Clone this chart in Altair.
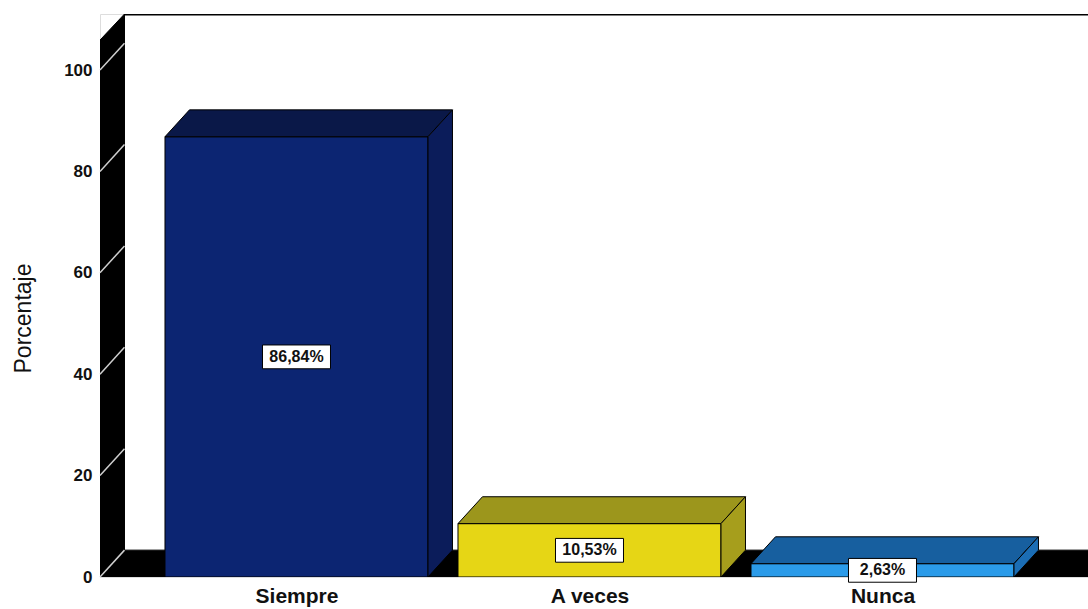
import json
import altair as alt
import pandas as pd

# ---- data ----
categories = ["Siempre", "A veces", "Nunca"]
values = [86.84, 10.53, 2.63]
labels = ["86,84%", "10,53%", "2,63%"]
front_colors = ["#0c2572", "#e6d615", "#2b9be9"]
top_colors = ["#0a1848", "#9c961c", "#175f9f"]
side_colors = ["#0b1c5a", "#a69e1c", "#1b6db4"]
tick_values = [0, 20, 40, 60, 80, 100]

# ---- geometry of the pseudo-3D frame (in data units) ----
XMIN, XMAX = -0.6706, 2.7014
YMAX = 111.05
HW = 0.4488      # half bar width
DX = 0.0836      # depth offset on x
DY = 5.3         # depth offset on y
WALL_TOP = 105.9

FONT = "Liberation Sans"

xscale = alt.Scale(domain=[XMIN, XMAX], nice=False, zero=False)
yscale = alt.Scale(domain=[0, YMAX], nice=False, zero=False)
label_expr = json.dumps(categories) + "[datum.value]"


def X(field):
    return alt.X(field, type="quantitative", scale=xscale, title=None,
                 axis=alt.Axis(values=[0, 1, 2], labelExpr=label_expr, ticks=False,
                               domain=False, grid=False, labelFontSize=21,
                               labelFontWeight="bold", labelFont=FONT,
                               labelColor="#111111", labelPadding=8))


def Y(field):
    return alt.Y(field, type="quantitative", scale=yscale, title="Porcentaje",
                 axis=alt.Axis(values=tick_values, ticks=False, domain=False, grid=False,
                               labelFontSize=17, labelFontWeight="bold", labelFont=FONT,
                               labelColor="#111111", labelPadding=8,
                               titleFont=FONT, titleFontSize=23, titleFontWeight="normal",
                               titleColor="#111111", titleX=-77, titleY=304,
                               titleAngle=-90, titleAlign="center",
                               titleBaseline="middle"))


# ---- polygons: floor, wall ----
rows = []


def poly(pid, pts, fill):
    for k, (x, y) in enumerate(pts):
        rows.append({"pid": pid, "k": k, "x": x, "y": y, "fill": fill})


poly("a_floor", [(XMIN, 0), (XMIN + DX, DY), (XMAX + 1, DY), (XMAX + 1, 0)], "#000000")
poly("b_wall", [(XMIN, 0), (XMIN + DX, DY), (XMIN + DX, YMAX), (XMIN, WALL_TOP)], "#000000")
frame = pd.DataFrame(rows)

rows = []
for i, v in enumerate(values):
    c = i
    poly(f"bar{i}_front", [(c - HW, 0), (c - HW, v), (c + HW, v), (c + HW, 0)], front_colors[i])
    poly(f"bar{i}_top", [(c - HW, v), (c - HW + DX, v + DY), (c + HW + DX, v + DY), (c + HW, v)], top_colors[i])
    poly(f"bar{i}_side", [(c + HW, 0), (c + HW + DX, DY), (c + HW + DX, v + DY), (c + HW, v)], side_colors[i])
bars = pd.DataFrame(rows)

grid = pd.DataFrame({"x": [XMIN] * len(tick_values),
                     "x2": [XMIN + DX] * len(tick_values),
                     "y": tick_values,
                     "y2": [t + DY for t in tick_values]})

border = pd.DataFrame({"x": [XMIN + DX], "x2": [XMAX], "y": [YMAX - 0.15], "y2": [YMAX - 0.15]})

lab = pd.DataFrame({"x": list(range(len(categories))),
                    "y": [v / 2 for v in values],
                    "label": labels})


def polys(df):
    return alt.Chart(df).mark_line(interpolate="linear-closed", stroke="black",
                                   strokeWidth=1, clip=True).encode(
        x=X("x"), y=Y("y"), order=alt.Order("k:Q"), detail="pid:N",
        fill=alt.Fill("fill:N", scale=None, legend=None))


frame_layer = polys(frame)
grid_layer = alt.Chart(grid).mark_rule(color="#cfcfcf", strokeWidth=1.5).encode(
    x=X("x"), x2="x2", y=Y("y"), y2="y2")
border_layer = alt.Chart(border).mark_rule(color="black", strokeWidth=1.5).encode(
    x=X("x"), x2="x2", y=Y("y"), y2="y2")
bar_layer = polys(bars)

box_shape = "M-1,-0.35L1,-0.35L1,0.35L-1,0.35Z"
box_layer = alt.Chart(lab).mark_point(shape=box_shape, size=68 * 68, filled=True,
                                      fill="white", stroke="black", strokeWidth=1,
                                      opacity=1).encode(x=X("x"), y=Y("y"))
text_layer = alt.Chart(lab).mark_text(font=FONT, fontSize=16, fontWeight="bold",
                                      color="#111111").encode(
    x=X("x"), y=Y("y"), text="label:N")

chart = alt.layer(frame_layer, grid_layer, border_layer, bar_layer, box_layer, text_layer).properties(
    width=988, height=563,
    autosize=alt.AutoSizeParams(type="none"),
    padding={"left": 100, "top": 14, "right": 0, "bottom": 32},
).configure_view(stroke=None).configure(background="white")

chart.save("out.html", embed_options={"renderer": "svg", "actions": False})
